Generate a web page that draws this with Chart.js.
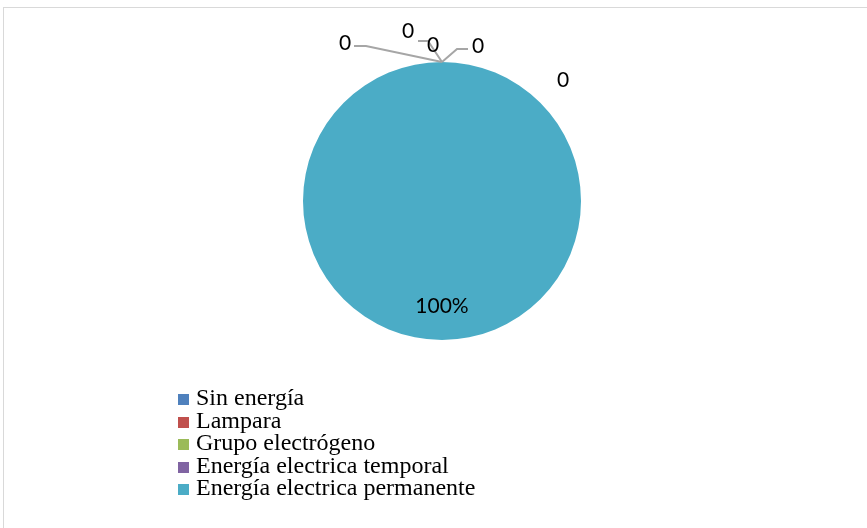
<!DOCTYPE html>
<html>
<head>
<meta charset="utf-8">
<script src="https://cdn.jsdelivr.net/npm/chart.js@4.4.1/dist/chart.umd.min.js"></script>
<style>
  html, body { margin: 0; padding: 0; background: #fff; }
  #wrap { position: relative; width: 867px; height: 528px; overflow: hidden; }
  #frame { position: absolute; left: 3px; top: 7px; width: 900px; height: 540px; border: 1px solid #d9d9d9; box-sizing: border-box; }
  #canvas-pie { position: absolute; left: 0; top: 0; }
  #legend { position: absolute; left: 178px; top: 386px; font-family: "Liberation Serif", "Times New Roman", serif; font-size: 24px; color: #000; }
  #legend div { height: 22.6px; line-height: 22.6px; white-space: nowrap; }
  #legend span.box { display: inline-block; width: 11px; height: 11px; margin-right: 7px; vertical-align: baseline; }
</style>
</head>
<body>
<div id="wrap">
  <div id="frame"></div>
  <canvas id="canvas-pie" width="867" height="528"></canvas>
  <div id="legend"></div>
</div>
<script>
const categories = ['Sin energía', 'Lampara', 'Grupo electrógeno', 'Energía electrica temporal', 'Energía electrica permanente', ''];
const values = [0, 0, 0, 0, 100, 0];
const sliceColors = ['#4F81BD', '#C0504D', '#9BBB59', '#8064A2', '#4BACC6', '#F79646'];

// where each data label sits, relative to the point where its slice starts
// [textDx, textDy, elbowDx, elbowDy, endDx] ; null elbow = no leader line
const labelLayout = [
    [-97, -19, -76, -16, -88],
    [-34, -31, -14, -21, -24],
    [-9, -17, null, null, null],
    [36, -16, 15, -13, 26],
    null,
    [121, 18, null, null, null]
];

const canvas = document.getElementById('canvas-pie');
var ctx = canvas.getContext('2d');

const total = values.reduce((a, b) => a + b, 0);

const dataLabels = {
    id: 'dataLabels',
    afterDatasetsDraw(chart) {
        const c = chart.ctx;
        const meta = chart.getDatasetMeta(0);
        c.save();
        c.font = '21px Lato, "Open Sans", sans-serif';
        c.fillStyle = '#000';
        c.textAlign = 'center';
        c.textBaseline = 'middle';
        meta.data.forEach((arc, i) => {
            const p = arc.getProps(['x', 'y', 'startAngle', 'endAngle', 'outerRadius']);
            const v = values[i];
            if (v > 0) {
                const mid = (p.startAngle + p.endAngle) / 2;
                const r = p.outerRadius * 0.755;
                c.fillText(Math.round(v / total * 100) + '%', p.x + Math.cos(mid) * r, p.y + Math.sin(mid) * r);
                return;
            }
            const lay = labelLayout[i];
            if (!lay) return;
            const ax = p.x + Math.cos(p.startAngle) * p.outerRadius;
            const ay = p.y + Math.sin(p.startAngle) * p.outerRadius;
            if (lay[2] !== null) {
                c.strokeStyle = '#A6A6A6';
                c.lineWidth = 2;
                c.beginPath();
                c.moveTo(ax, ay);
                c.lineTo(ax + lay[2], ay + lay[3]);
                c.lineTo(ax + lay[4], ay + lay[3]);
                c.stroke();
            }
            c.fillText(String(v), ax + lay[0], ay + lay[1]);
        });
        c.restore();
    }
};

new Chart(ctx, {
    type: 'pie',
    data: {
        labels: categories,
        datasets: [{
            data: values,
            backgroundColor: sliceColors,
            borderWidth: 0
        }]
    },
    options: {
        responsive: false,
        animation: false,
        layout: { padding: { top: 62, bottom: 188, left: 17, right: 0 } },
        plugins: {
            legend: { display: false },
            tooltip: { enabled: false }
        }
    },
    plugins: [dataLabels]
});

// legend: one line per category
const legendBox = document.getElementById('legend');
categories.forEach((name, i) => {
    if (!name) return;
    const row = document.createElement('div');
    const box = document.createElement('span');
    box.className = 'box';
    box.style.background = sliceColors[i];
    row.appendChild(box);
    row.appendChild(document.createTextNode(name));
    legendBox.appendChild(row);
});
</script>
</body>
</html>
